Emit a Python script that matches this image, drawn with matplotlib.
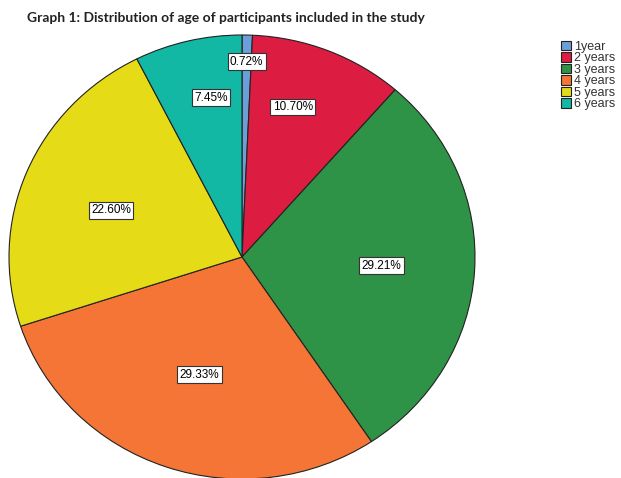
import numpy as np
import matplotlib.pyplot as plt

# datos
categorias = ["1year", "2 years", "3 years", "4 years", "5 years", "6 years"]
porcentajes = [0.72, 10.70, 29.21, 29.33, 22.60, 7.45]
colores = ["#6a9fd8", "#dc1c41", "#2e9247", "#f47535", "#e5dc17", "#12b8a4"]
# posicion de cada etiqueta: fraccion del radio y desfase de angulo (grados)
dist_etiquetas = [0.88, 0.71, 0.60, 0.56, 0.60, 0.73]
desfase_angulo = [0, 4, 0, 0, 2, -3]

fig = plt.figure(figsize=(6.21, 4.78), dpi=100)
ax = fig.add_axes([9 / 621, -1 / 478, 466 / 621, 444 / 478])

wedges, _ = ax.pie(porcentajes, colors=colores, startangle=90, counterclock=False,
                   wedgeprops=dict(edgecolor="#222222", linewidth=0.8))
ax.set_aspect("auto")
ax.set_xlim(-1, 1)
ax.set_ylim(-1, 1)

for w, p, d, da in zip(wedges, porcentajes, dist_etiquetas, desfase_angulo):
    ang = np.deg2rad((w.theta1 + w.theta2) / 2 + da)
    ax.text(d * np.cos(ang), d * np.sin(ang), f"{p:.2f}%", ha="center", va="center",
            fontsize=8.5, family="Liberation Sans",
            bbox=dict(boxstyle="square,pad=0.2", facecolor="white", edgecolor="#333333", linewidth=0.8))

fig.text(27 / 621, 1 - 18 / 478, "Graph 1: Distribution of age of participants included in the study",
         fontsize=10, fontweight="bold", family="Lato", va="center", ha="left", color="#222222")

leg = fig.legend(wedges, categorias, loc="upper left", bbox_to_anchor=(552 / 621, 1 - 32 / 478),
                 frameon=False, prop=dict(family="Liberation Sans", size=9),
                 handlelength=0.8, handleheight=0.8, handletextpad=0.25, labelspacing=-0.05,
                 borderpad=0.2, labelcolor="#333333")

fig.savefig("out.png", dpi=100)
